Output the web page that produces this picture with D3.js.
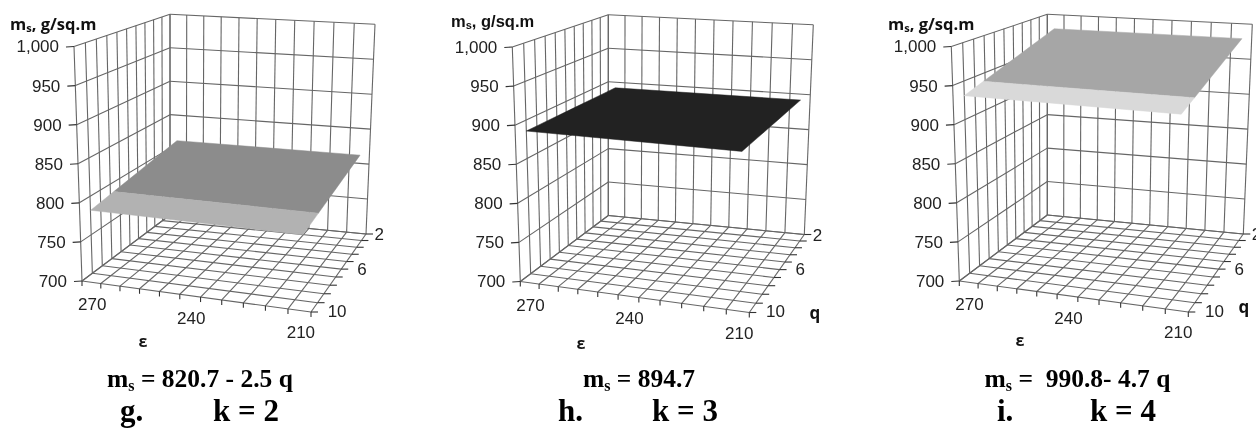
<!DOCTYPE html>
<html>
<head>
<meta charset="utf-8">
<script src="https://cdn.jsdelivr.net/npm/d3@7"></script>
<style>
  html, body { margin: 0; padding: 0; background: #fff; overflow: hidden; }
  svg { display: block; filter: blur(0.35px); }
  text { white-space: pre; }
</style>
</head>
<body>
<svg id="chart" width="1256" height="428"></svg>
<script>
const epsilonCats = [270, 264, 258, 252, 246, 240, 234, 228, 222, 216, 210]
const qCats = [2, 3, 4, 5, 6, 7, 8, 9, 10, 11]
const zTicks = [700, 750, 800, 850, 900, 950, 1000]
const zLabels = ["700", "750", "800", "850", "900", "950", "1,000"]
const epsilonLabels = [270, 240, 210]
const qLabels = [2, 6, 10]

// surface height for each q, flat along epsilon
const surfaceG = [815.7, 813.2, 810.7, 808.2, 805.7, 803.2, 800.7, 798.2, 795.7, 793.2]
const surfaceH = [894.7, 894.7, 894.7, 894.7, 894.7, 894.7, 894.7, 894.7, 894.7, 894.7]
const surfaceI = [981.4, 976.7, 972.0, 967.3, 962.6, 957.9, 953.2, 948.5, 943.8, 939.1]
const bandEdges = [798.5, 900, 947]
const darkColors = ["#8c8c8c", "#222222", "#a6a6a6"]
const lightColors = ["#b2b2b2", "#222222", "#d9d9d9"]

const formulas = [" = 820.7 - 2.5 q", " = 894.7", " =  990.8- 4.7 q"]
const panelLetters = ["g.", "h.", "i."]
const kLabels = ["k = 2", "k = 3", "k = 4"]

const svg = d3.select("#chart")

// corners of the box in panel g, the others are the same box moved across
const floorCorners = [[170, 215], [366, 234], [311, 312], [82, 281]]
const topCorners = [[170, 14.3], [375, 24.3], [314, 64], [74, 46.5]]
const offsets = [[0, 0], [438.3, 0.5], [877.3, 0]]
const titleSpots = [[10, 30, "Open Sans"], [451, 27, "Liberation Sans"], [888, 30, "Open Sans"]]
const formulaX = [200, 639, 1077.5]
const letterX = [120, 558, 997]
const kX = [213, 652, 1090]
const epsTitle = [[143, 342], [581, 344], [1020, 341]]
const qTitle = [null, [815, 315], [1244, 309]]
const qLabelDx = [9, 16, 16]

// maps the unit square to a quad: back-left, back-right, front-right, front-left
function homography(c) {
  const [x0, y0] = c[0], [x1, y1] = c[1], [x2, y2] = c[2], [x3, y3] = c[3]
  const dx1 = x1 - x2, dx2 = x3 - x2, sx = x0 - x1 + x2 - x3
  const dy1 = y1 - y2, dy2 = y3 - y2, sy = y0 - y1 + y2 - y3
  const det = dx1 * dy2 - dx2 * dy1
  const g = (sx * dy2 - dx2 * sy) / det
  const h = (dx1 * sy - sx * dy1) / det
  const a = x1 - x0 + g * x1, b = x3 - x0 + h * x3
  const d = y1 - y0 + g * y1, e = y3 - y0 + h * y3
  return function (u, v) {
    const w = g * u + h * v + 1
    return [(a * u + b * v + x0) / w, (d * u + e * v + y0) / w]
  }
}

const floorMap = homography(floorCorners)
const topMap = homography(topCorners)

// box coordinates in cells
const uScale = d3.scaleLinear().domain([0, epsilonCats.length]).range([0, 1])
const vScale = d3.scaleLinear().domain([0, qCats.length]).range([0, 1])
const zScale = d3.scaleLinear().domain([700, 1000]).range([0, 1])
const uCat = d3.scalePoint().domain(epsilonCats).range([0.65, 10.65])
const vCat = d3.scalePoint().domain(qCats).range([0.5, 10.1])
const vLabel = d3.scaleLinear().domain([2, 10]).range([0.1, 9.9])

function project(u, v, z) {
  const a = floorMap(uScale(u), vScale(v))
  const b = topMap(uScale(u), vScale(v))
  const t = zScale(z)
  return [a[0] + (b[0] - a[0]) * t, a[1] + (b[1] - a[1]) * t]
}

const line = d3.line()

function drawPanel(i, surface) {
  const g = svg.append("g").attr("transform", "translate(" + offsets[i][0] + "," + offsets[i][1] + ")")
  const nu = epsilonCats.length, nv = qCats.length
  const gridLines = []
  const seg = function (a, b) { gridLines.push([a, b]) }

  d3.range(nu + 1).forEach(function (u) {
    seg(project(u, 0, 700), project(u, 0, 1000)) // back wall
    seg(project(u, 0, 700), project(u, nv, 700)) // floor
  })
  d3.range(nv + 1).forEach(function (v) {
    seg(project(0, v, 700), project(0, v, 1000)) // left wall
    seg(project(0, v, 700), project(nu, v, 700)) // floor
  })
  zTicks.forEach(function (z) {
    seg(project(0, nv, z), project(0, 0, z))
    seg(project(0, 0, z), project(nu, 0, z))
  })

  g.selectAll("path.grid").data(gridLines).enter().append("path")
    .attr("class", "grid")
    .attr("d", function (d) { return line(d) })
    .attr("fill", "none")
    .attr("stroke", "#666")
    .attr("stroke-width", 1.1)

  // tick marks
  const ticks = []
  zTicks.forEach(function (z) {
    const p = project(0, nv, z)
    ticks.push([p, [p[0] - 8, p[1] + 0.5]])
  })
  d3.range(nu + 1).forEach(function (u) {
    const p = project(u, nv, 700)
    ticks.push([p, [p[0], p[1] + 5]])
  })
  d3.range(nv + 1).forEach(function (v) {
    const p = project(nu, v, 700)
    ticks.push([p, [p[0] + 7, p[1]]])
  })
  g.selectAll("path.tick").data(ticks).enter().append("path")
    .attr("class", "tick")
    .attr("d", function (d) { return line(d) })
    .attr("fill", "none")
    .attr("stroke", "#333")
    .attr("stroke-width", 1.1)

  // surface, split where it crosses the band edge
  const uA = uCat(epsilonCats[0]), uB = uCat(epsilonCats[nu - 1])
  const strip = function (rows, color) {
    if (rows.length < 2) return
    const left = rows.map(function (r) { return project(uA, r[0], r[1]) })
    const right = rows.map(function (r) { return project(uB, r[0], r[1]) }).reverse()
    g.append("path")
      .attr("d", line(left.concat(right)) + "Z")
      .attr("fill", color)
      .attr("stroke", color)
      .attr("stroke-width", 0.5)
  }
  const edge = bandEdges[i]
  const upper = [], lower = []
  surface.forEach(function (z, j) {
    const v = vCat(qCats[j])
    if (z >= edge) upper.push([v, z])
    else lower.push([v, z])
    if (j < surface.length - 1 && (z - edge) * (surface[j + 1] - edge) < 0) {
      const f = (z - edge) / (z - surface[j + 1])
      const cross = [v + f * (vCat(qCats[j + 1]) - v), edge]
      upper.push(cross)
      lower.push(cross)
    }
  })
  lower.sort(function (a, b) { return a[0] - b[0] })
  strip(upper, darkColors[i])
  strip(lower, lightColors[i])

  // tick labels
  const tickFont = "Liberation Sans"
  zTicks.forEach(function (z, k) {
    const p = project(0, nv, z)
    g.append("text").attr("x", p[0] - 15).attr("y", p[1] + 1.5)
      .attr("text-anchor", "end").attr("dominant-baseline", "middle")
      .attr("font-family", tickFont).attr("font-size", 17).attr("fill", "#222")
      .text(zLabels[k])
  })
  epsilonLabels.forEach(function (e) {
    const p = project(uCat(e), nv, 700)
    g.append("text").attr("x", p[0] - 2).attr("y", p[1] + 23)
      .attr("text-anchor", "middle").attr("dominant-baseline", "middle")
      .attr("font-family", tickFont).attr("font-size", 17).attr("fill", "#222")
      .text(e)
  })
  qLabels.forEach(function (q, k) {
    const p = project(nu, vLabel(q), 700)
    g.append("text").attr("x", p[0] + qLabelDx[k]).attr("y", p[1] + 1)
      .attr("dominant-baseline", "middle")
      .attr("font-family", tickFont).attr("font-size", 17).attr("fill", "#222")
      .text(q)
  })
}

drawPanel(0, surfaceG)
drawPanel(1, surfaceH)
drawPanel(2, surfaceI)

// axis titles and captions are placed on the page
titleSpots.forEach(function (s) {
  const t = svg.append("text").attr("x", s[0]).attr("y", s[1])
    .attr("font-family", s[2]).attr("font-weight", "bold").attr("font-size", 16.5).attr("fill", "#111")
  t.append("tspan").text("m")
  t.append("tspan").attr("font-size", 11).attr("dy", 2).text("s")
  t.append("tspan").attr("dy", -2).text(", g/sq.m")
})
epsTitle.forEach(function (s) {
  svg.append("text").attr("x", s[0]).attr("y", s[1] + 5).attr("text-anchor", "middle")
    .attr("font-family", "Open Sans").attr("font-weight", "bold").attr("font-size", 16).attr("fill", "#111")
    .text("ε")
})
qTitle.forEach(function (s) {
  if (!s) return
  svg.append("text").attr("x", s[0]).attr("y", s[1] + 4).attr("text-anchor", "middle")
    .attr("font-family", "Open Sans").attr("font-weight", "bold").attr("font-size", 17).attr("fill", "#111")
    .text("q")
})
formulas.forEach(function (f, i) {
  const t = svg.append("text").attr("x", formulaX[i]).attr("y", 387).attr("text-anchor", "middle")
    .attr("font-family", "Liberation Serif").attr("font-weight", "bold").attr("font-size", 25.5).attr("fill", "#000")
  t.append("tspan").text("m")
  t.append("tspan").attr("font-size", 16).attr("dy", 4).text("s")
  t.append("tspan").attr("dy", -4).text(f)
  const caption = function (x, text) {
    svg.append("text").attr("x", x).attr("y", 421)
      .attr("font-family", "Liberation Serif").attr("font-weight", "bold").attr("font-size", 31).attr("fill", "#000")
      .text(text)
  }
  caption(letterX[i], panelLetters[i])
  caption(kX[i], kLabels[i])
})
</script>
</body>
</html>
